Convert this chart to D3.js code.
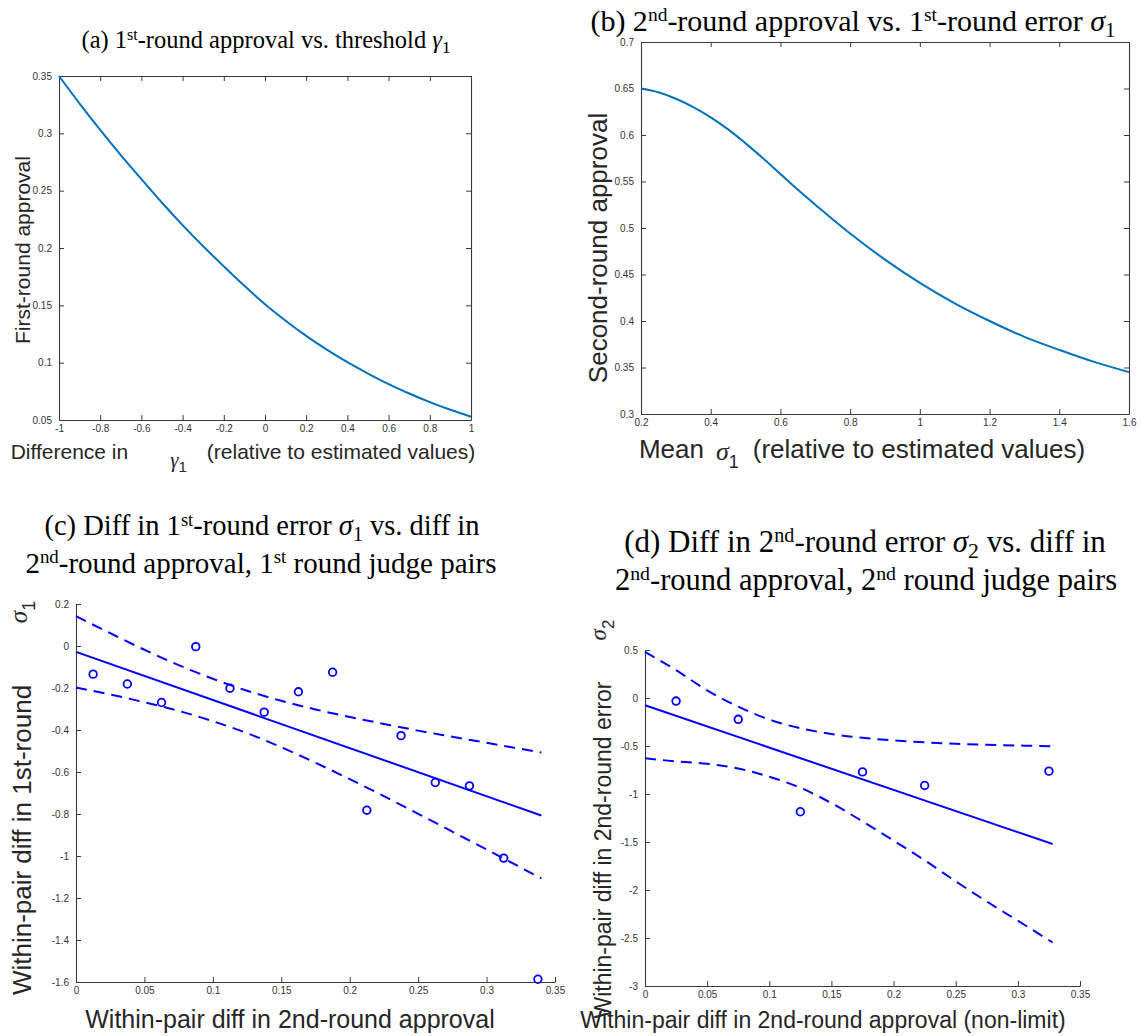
<!DOCTYPE html>
<html><head><meta charset="utf-8">
<script src="https://cdn.jsdelivr.net/npm/d3@7"></script>
<style>
body{margin:0;background:#fff}
svg text{font-family:"Liberation Sans",Arial,sans-serif}
.tt{font-family:"Liberation Serif","Times New Roman",serif !important}
</style>
</head><body>
<svg id="chart" width="1141" height="1036"></svg>
<script>
// ---------- data ----------
const aGamma    = [-1,-0.9,-0.8,-0.7,-0.6,-0.5,-0.4,-0.3,-0.2,-0.1,0,0.1,0.2,0.3,0.4,0.5,0.6,0.7,0.8,0.9,1];
const aApproval = [0.350,0.326,0.303,0.281,0.260,0.2395,0.220,0.2015,0.184,0.167,0.151,0.1366,0.1234,0.1114,0.1004,0.0905,0.0813,0.0731,0.0656,0.0589,0.0529];
const aXTicks = [-1,-0.8,-0.6,-0.4,-0.2,0,0.2,0.4,0.6,0.8,1];
const aYTicks = [0.05,0.1,0.15,0.2,0.25,0.3,0.35];

const bSigma    = [0.2,0.25,0.3,0.35,0.4,0.45,0.5,0.55,0.6,0.65,0.7,0.8,0.9,1.0,1.1,1.2,1.3,1.4,1.5,1.6];
const bApproval = [0.650,0.646,0.639,0.630,0.619,0.606,0.591,0.575,0.558,0.541,0.525,0.494,0.466,0.441,0.419,0.400,0.383,0.369,0.356,0.345];
const bXTicks = [0.2,0.4,0.6,0.8,1,1.2,1.4,1.6];
const bYTicks = [0.3,0.35,0.4,0.45,0.5,0.55,0.6,0.65,0.7];

const cPairX = [0.0125,0.0375,0.0625,0.0875,0.1125,0.1375,0.1625,0.1875,0.2125,0.2375,0.2625,0.2875,0.3125,0.3375];
const cPairY = [-0.134,-0.181,-0.269,-0.003,-0.201,-0.315,-0.218,-0.125,-0.782,-0.427,-0.650,-0.666,-1.010,-1.587];
const cFitX = [0,0.34];
const cFitY = [-0.028,-0.807];
const cBandX = [0,0.025,0.05,0.075,0.1,0.125,0.15,0.175,0.2,0.225,0.25,0.275,0.3,0.325,0.34];
const cUpper = [0.142,0.061,-0.018,-0.091,-0.156,-0.213,-0.261,-0.302,-0.338,-0.371,-0.403,-0.432,-0.461,-0.490,-0.507];
const cLower = [-0.198,-0.231,-0.268,-0.309,-0.358,-0.415,-0.482,-0.556,-0.634,-0.715,-0.799,-0.884,-0.969,-1.055,-1.107];
const cXTicks = [0,0.05,0.1,0.15,0.2,0.25,0.3,0.35];
const cYTicks = [-1.6,-1.4,-1.2,-1,-0.8,-0.6,-0.4,-0.2,0,0.2];

const dPairX = [0.025,0.075,0.125,0.175,0.225,0.325];
const dPairY = [-0.032,-0.222,-1.185,-0.770,-0.911,-0.762];
const dFitX = [0,0.328];
const dFitY = [-0.076,-1.521];
const dBandX = [0,0.025,0.05,0.075,0.1,0.125,0.15,0.175,0.2,0.225,0.25,0.275,0.3,0.328];
const dUpper = [0.48,0.29,0.08,-0.09,-0.225,-0.315,-0.375,-0.415,-0.442,-0.462,-0.477,-0.487,-0.495,-0.502];
const dLower = [-0.628,-0.66,-0.685,-0.735,-0.82,-0.935,-1.095,-1.285,-1.485,-1.69,-1.91,-2.12,-2.32,-2.547];
const dXTicks = [0,0.05,0.1,0.15,0.2,0.25,0.3,0.35];
const dYTicks = [-3,-2.5,-2,-1.5,-1,-0.5,0,0.5];

// ---------- drawing ----------
const svg = d3.select('#chart');
const AX = '#3a3a3a';
const fmt = d => String(+d.toFixed(2));

function styleAxis(sel){
  sel.select('.domain').attr('stroke',AX).attr('stroke-width',1.1);
  sel.selectAll('.tick line').attr('stroke',AX).attr('stroke-width',1);
  sel.selectAll('.tick text').attr('fill','#333').attr('font-size','10px')
     .attr('font-family','"Liberation Sans",Arial,sans-serif');
}

function panel(o){
  const x = d3.scaleLinear().domain(o.xDom).range([o.L,o.R]);
  const y = d3.scaleLinear().domain(o.yDom).range([o.B,o.T]);
  const g = svg.append('g');
  const tk = o.tick;
  g.append('g').attr('transform',`translate(0,${o.B})`)
    .call(d3.axisBottom(x).tickValues(o.xTicks).tickFormat(fmt).tickSizeInner(-tk).tickSizeOuter(0).tickPadding(5))
    .call(styleAxis);
  g.append('g').attr('transform',`translate(${o.L},0)`)
    .call(d3.axisLeft(y).tickValues(o.yTicks).tickFormat(fmt).tickSizeInner(-tk).tickSizeOuter(0).tickPadding(7))
    .call(styleAxis);
  if(o.box){
    g.append('g').attr('transform',`translate(0,${o.T})`)
      .call(d3.axisTop(x).tickValues(o.xTicks).tickFormat('').tickSizeInner(-tk).tickSizeOuter(0))
      .call(styleAxis);
    g.append('g').attr('transform',`translate(${o.R},0)`)
      .call(d3.axisRight(y).tickValues(o.yTicks).tickFormat('').tickSizeInner(-tk).tickSizeOuter(0))
      .call(styleAxis);
  }
  return {g,x,y};
}

// Panel (a)
{
  const p = panel({L:59,R:471,T:76,B:420,xDom:[-1,1],yDom:[0.05,0.35],xTicks:aXTicks,yTicks:aYTicks,tick:5,box:true});
  const line = d3.line().x(d=>p.x(d[0])).y(d=>p.y(d[1])).curve(d3.curveCatmullRom);
  p.g.append('path').datum(d3.zip(aGamma,aApproval)).attr('d',line)
    .attr('fill','none').attr('stroke','#0072BD').attr('stroke-width',2);
}
// Panel (b)
{
  const p = panel({L:641,R:1129,T:42,B:414,xDom:[0.2,1.6],yDom:[0.3,0.7],xTicks:bXTicks,yTicks:bYTicks,tick:5,box:true});
  const line = d3.line().x(d=>p.x(d[0])).y(d=>p.y(d[1])).curve(d3.curveCatmullRom);
  p.g.append('path').datum(d3.zip(bSigma,bApproval)).attr('d',line)
    .attr('fill','none').attr('stroke','#0072BD').attr('stroke-width',2);
}
function scatterPanel(o, px, py, fx, fy, bx, up, lo){
  const p = panel(o);
  const line = d3.line().x(d=>p.x(d[0])).y(d=>p.y(d[1]));
  const cl = d3.line().x(d=>p.x(d[0])).y(d=>p.y(d[1])).curve(d3.curveMonotoneX);
  p.g.append('path').datum(d3.zip(fx,fy)).attr('d',line).attr('fill','none').attr('stroke','#0000FF').attr('stroke-width',2);
  [up,lo].forEach(arr=>{
    p.g.append('path').datum(d3.zip(bx,arr)).attr('d',cl).attr('fill','none')
      .attr('stroke','#0000FF').attr('stroke-width',2).attr('stroke-dasharray','11,7');
  });
  p.g.selectAll('circle.pt').data(d3.zip(px,py)).join('circle').attr('class','pt')
    .attr('cx',d=>p.x(d[0])).attr('cy',d=>p.y(d[1])).attr('r',3.8)
    .attr('fill','none').attr('stroke','#0000FF').attr('stroke-width',1.8);
}
scatterPanel({L:76,R:555,T:604,B:982,xDom:[0,0.35],yDom:[-1.6,0.2],xTicks:cXTicks,yTicks:cYTicks,tick:5,box:false},
  cPairX,cPairY,cFitX,cFitY,cBandX,cUpper,cLower);
scatterPanel({L:645,R:1080,T:650,B:986,xDom:[0,0.35],yDom:[-3,0.5],xTicks:dXTicks,yTicks:dYTicks,tick:5,box:false},
  dPairX,dPairY,dFitX,dFitY,dBandX,dUpper,dLower);

// ---------- titles ----------
function title(x,y,parts,size){
  const t = svg.append('text').attr('class','tt').attr('x',x).attr('y',y)
    .attr('text-anchor','middle').attr('font-size',size+'px').attr('fill','#000');
  parts.forEach(p=>{
    const s = t.append('tspan').text(p.t);
    if(p.sup){ s.attr('font-size',(size*0.65)+'px').attr('dy',-size*0.33); }
    if(p.back){ s.attr('dy',size*0.33); }
    if(p.it){ s.attr('font-style','italic'); }
    if(p.sub){ s.attr('font-size',(size*0.7)+'px').attr('dy',size*0.2); }
    if(p.backsub){ s.attr('dy',-size*0.2); }
  });
}
title(266,48,[{t:'(a) 1'},{t:'st',sup:1},{t:'-round approval vs. threshold ',back:1},{t:'γ',it:1},{t:'1',sub:1}],24.5);
title(853,31,[{t:'(b) 2'},{t:'nd',sup:1},{t:'-round approval vs. 1',back:1},{t:'st',sup:1},{t:'-round error ',back:1},{t:'σ',it:1},{t:'1',sub:1}],30);
title(262,535,[{t:'(c) Diff in 1'},{t:'st',sup:1},{t:'-round error ',back:1},{t:'σ',it:1},{t:'1',sub:1},{t:' vs. diff in',backsub:1}],28.5);
title(261,573,[{t:'2'},{t:'nd',sup:1},{t:'-round approval, 1',back:1},{t:'st',sup:1},{t:' round judge pairs',back:1}],29);
title(865,552,[{t:'(d) Diff in 2'},{t:'nd',sup:1},{t:'-round error ',back:1},{t:'σ',it:1},{t:'2',sub:1},{t:' vs. diff in',backsub:1}],31);
title(866,590,[{t:'2'},{t:'nd',sup:1},{t:'-round approval, 2',back:1},{t:'nd',sup:1},{t:' round judge pairs',back:1}],30.5);

// ---------- axis labels ----------
function lab(x,y,size,rot){
  const t = svg.append('text').attr('text-anchor','middle').attr('font-size',size+'px').attr('fill','#262626')
    .attr('transform',`translate(${x},${y})${rot?' rotate(-90)':''}`);
  return t;
}
{ // (a) x label
  const t = lab(243,459,21,false);
  t.append('tspan').text('Difference in');
  t.append('tspan').attr('dx',42).attr('dy',8).attr('class','tt').attr('font-style','italic').text('γ');
  t.append('tspan').attr('dy',5).attr('font-size','15px').text('1');
  t.append('tspan').attr('dx',20).attr('dy',-13).text('(relative to estimated values)');
}
lab(30,250,21,true).text('First-round approval');
{ // (b) x label
  const t = lab(862,458,26,false);
  t.append('tspan').text('Mean');
  t.append('tspan').attr('dx',12).attr('dy',2).attr('class','tt').attr('font-style','italic').text('σ');
  t.append('tspan').attr('dy',8).attr('font-size','18px').text('1');
  t.append('tspan').attr('dx',14).attr('dy',-10).text('(relative to estimated values)');
}
lab(607,248,26,true).text('Second-round approval');
// (c)
lab(290,1028,25,false).text('Within-pair diff in 2nd-round approval');
lab(31,840,26,true).text('Within-pair diff in 1st-round');
{ const t = lab(27,612,25,true);
  t.append('tspan').attr('class','tt').attr('font-style','italic').text('σ');
  t.append('tspan').attr('dy',8).attr('font-size','18px').text('1'); }
// (d)
lab(823,1028,23,false).text('Within-pair diff in 2nd-round approval (non-limit)');
lab(611,850,23,true).text('Within-pair diff in 2nd-round error');
{ const t = lab(606,630,23,true);
  t.append('tspan').attr('class','tt').attr('font-style','italic').text('σ');
  t.append('tspan').attr('dy',8).attr('font-size','17px').text('2'); }
</script>
</body></html>
